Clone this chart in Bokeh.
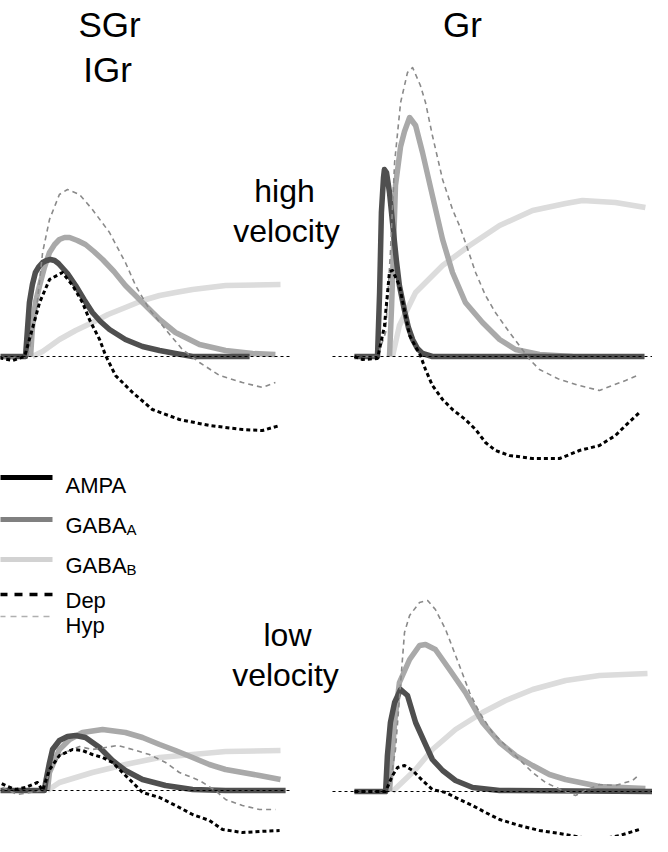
from bokeh.plotting import figure
from bokeh.models import Range1d, Label
from bokeh.embed import file_html
from bokeh.resources import INLINE

# ---------------- data (time in ms, amplitude in arbitrary units) ----------------
# Panel: SGr/IGr, high velocity
tl_ampa_t = [0.7, 11, 11.7, 12.3, 13.3, 14.3, 15.5, 16.7, 18, 19.3, 20.7, 22, 25, 27.7, 30.5, 33.3, 36, 39, 44.3, 50, 55.7, 61, 66.7, 85.7]
tl_ampa_a = [0, 0, 0.29, 0.54, 0.72, 0.84, 0.90, 0.94, 0.96, 0.97, 0.96, 0.93, 0.83, 0.71, 0.57, 0.44, 0.35, 0.27, 0.17, 0.10, 0.06, 0.03, 0, 0]
tl_gabaa_t = [12.7, 13.3, 14.3, 15.7, 17.3, 19, 20.7, 22.3, 24, 25.7, 28.3, 31, 33.8, 36.7, 40.5, 44.3, 50, 55.7, 61, 69, 77.7, 86.7, 94.3]
tl_gabaa_a = [0, 0.29, 0.54, 0.71, 0.89, 1.04, 1.12, 1.17, 1.19, 1.19, 1.16, 1.12, 1.05, 0.97, 0.85, 0.71, 0.54, 0.37, 0.24, 0.12, 0.06, 0.03, 0.02]
tl_gabab_t = [13.3, 16.7, 22.3, 27.7, 33.3, 38.5, 44.3, 50, 55.7, 61, 66.7, 77.7, 96]
tl_gabab_a = [0, 0.05, 0.17, 0.26, 0.34, 0.42, 0.49, 0.56, 0.61, 0.64, 0.67, 0.71, 0.72]
tl_hyp_t = [0, 5, 11.7, 14.3, 16.7, 19, 22.3, 25, 29, 33.3, 39, 44.3, 47.7, 52.3, 57.7, 63.3, 69, 75.7, 83.3, 90, 94.3]
tl_hyp_a = [0, -0.02, 0, 0.37, 1.04, 1.37, 1.62, 1.67, 1.62, 1.47, 1.24, 0.94, 0.71, 0.47, 0.27, 0.07, -0.06, -0.19, -0.26, -0.31, -0.26]
tl_dep_t = [0, 6.7, 10.7, 12.3, 15.7, 19, 23.3, 26.7, 30, 32.3, 35.7, 37.7, 41, 46.7, 53.3, 62.3, 72.3, 83.3, 90, 95.7]
tl_dep_a = [0, -0.04, 0, 0.17, 0.54, 0.77, 0.84, 0.71, 0.54, 0.37, 0.17, 0.01, -0.19, -0.36, -0.53, -0.63, -0.69, -0.73, -0.74, -0.69]
tl_base_t = [0, 100]

# Panel: Gr, high velocity
tr_ampa_t = [7.3, 15, 15.7, 16.3, 17, 17.3, 18, 19, 20, 21.3, 22.3, 24, 25.3, 26.7, 28.3, 30, 33.3, 104]
tr_ampa_a = [0, 0, 0.64, 1.44, 1.79, 1.87, 1.84, 1.64, 1.34, 0.96, 0.71, 0.46, 0.29, 0.17, 0.08, 0.03, 0, 0]
tr_gabaa_t = [19, 19.7, 21, 22.7, 24, 25.7, 27.7, 30, 33.3, 36.7, 40, 44.3, 50, 55.7, 61, 69, 80]
tr_gabaa_a = [0, 0.5, 1.71, 2.1, 2.25, 2.39, 2.31, 2.04, 1.61, 1.17, 0.84, 0.54, 0.34, 0.17, 0.07, 0.02, 0]
tr_gabab_t = [20, 22.3, 27.7, 36.7, 45.7, 55.7, 66.7, 77.7, 83.3, 94.3, 104.3]
tr_gabab_a = [0, 0.31, 0.64, 0.91, 1.11, 1.31, 1.46, 1.53, 1.56, 1.54, 1.49]
tr_hyp_t = [7.3, 15, 17.7, 19.3, 20.7, 22.7, 25, 26.7, 29.3, 31, 33.3, 36.7, 40, 42.3, 44.3, 47.7, 51, 54.3,
            59, 62.3, 65.7, 69, 75.7, 82.3, 89, 93.3, 97.7, 102.3]
tr_hyp_a = [0, 0, 0.24, 1.04, 1.94, 2.54, 2.84, 2.89, 2.71, 2.54, 2.21, 1.77, 1.47, 1.31, 1.14, 0.84, 0.61, 0.44,
            0.24, 0.11, -0.03, -0.13, -0.23, -0.29, -0.34, -0.29, -0.24, -0.18]
tr_dep_t = [7.3, 10, 15, 17.3, 19, 20, 22.3, 25.7, 29.3, 31, 33.3, 36.7, 40, 44.3, 47.7, 51, 54.3, 59, 66.7,
            75.7, 82.3, 89, 94.3, 97.7, 102.3]
tr_dep_a = [0, -0.03, -0.02, 0.3, 0.85, 0.86, 0.71, 0.21, 0.01, -0.13, -0.29, -0.43, -0.53, -0.63, -0.73, -0.86,
            -0.94, -0.99, -1.02, -1.02, -0.94, -0.89, -0.79, -0.69, -0.56]
tr_base_t = [0, 110]

# Panel: SGr/IGr, low velocity
bl_ampa_t = [0.7, 17.3, 17.7, 19, 20, 22.3, 25, 27.7, 31, 35.7, 40, 44.3, 50, 57.7, 66.7, 77.7, 97.7]
bl_ampa_a = [0, 0, 0.08, 0.28, 0.41, 0.5, 0.54, 0.55, 0.53, 0.43, 0.3, 0.2, 0.11, 0.05, 0.01, 0, 0]
bl_gabaa_t = [18.3, 19, 22.3, 25.7, 30, 36.7, 44.3, 50, 55.7, 61, 66.7, 72.3, 77.7, 89, 96]
bl_gabaa_a = [0, 0.18, 0.41, 0.51, 0.58, 0.61, 0.58, 0.53, 0.46, 0.4, 0.33, 0.26, 0.21, 0.15, 0.11]
bl_gabab_t = [18.3, 22.3, 33.3, 44.3, 55.7, 66.7, 77.7, 96]
bl_gabab_a = [0, 0.08, 0.18, 0.26, 0.33, 0.36, 0.39, 0.4]
bl_hyp_t = [3.3, 8.3, 16.7, 19, 22.3, 25.7, 29, 33.3, 37.7, 41.7, 46.7, 52.3, 57.7, 62.3, 69, 74.3, 77.7, 83.3, 89, 94.3]
bl_hyp_a = [0.03, -0.04, 0, 0.18, 0.35, 0.4, 0.44, 0.41, 0.43, 0.45, 0.41, 0.36, 0.28, 0.18, 0.1, 0, -0.09, -0.15, -0.19, -0.19]
bl_dep_t = [1, 4.3, 7.7, 11, 15, 16.7, 19, 22.3, 26.7, 30, 33.3, 36.7, 40, 43.3, 46.7, 50, 55.7, 61, 66.7, 72.3,
            76.7, 83.3, 89, 95.7]
bl_dep_a = [0.1, 0.05, 0.01, 0.03, 0.08, 0, 0.21, 0.35, 0.41, 0.4, 0.36, 0.33, 0.28, 0.18, 0.08, -0.02, -0.07,
            -0.15, -0.24, -0.3, -0.39, -0.42, -0.41, -0.4]
bl_base_t = [0, 100]

# Panel: Gr, low velocity
br_ampa_t = [7.3, 17.7, 18.3, 19.3, 20.7, 22.7, 25, 27.7, 30.7, 33.3, 36.7, 41, 46.7, 55.7, 108.3]
br_ampa_a = [0, 0, 0.36, 0.69, 0.89, 1.02, 0.96, 0.69, 0.49, 0.32, 0.21, 0.11, 0.04, 0.01, 0]
br_gabaa_t = [19, 20.7, 22.3, 25.7, 29, 31, 34.3, 39, 44.3, 50, 55.7, 61, 66.7, 72.3, 77.7, 89, 104.3]
br_gabaa_a = [0, 0.69, 1.09, 1.32, 1.46, 1.47, 1.42, 1.22, 0.99, 0.69, 0.49, 0.36, 0.26, 0.17, 0.12, 0.05, 0.03]
br_gabab_t = [20, 27.7, 33.3, 41, 50, 57.7, 66.7, 77.7, 89, 105]
br_gabab_a = [0, 0.22, 0.42, 0.62, 0.79, 0.91, 1.02, 1.11, 1.16, 1.18]
br_hyp_t = [7.3, 17.7, 19.3, 21, 24, 25.7, 29, 31.7, 34.3, 37.7, 42.3, 45.7, 49, 53.3, 57.7, 62.3, 66.7, 71,
            76.7, 81, 84.3, 89, 94.3, 100, 102.3]
br_hyp_a = [0, 0, 0.09, 0.42, 1.59, 1.76, 1.89, 1.91, 1.82, 1.62, 1.26, 0.99, 0.79, 0.59, 0.46, 0.32, 0.19, 0.09,
            0.01, -0.04, 0.01, 0.07, 0.06, 0.11, 0.17]
br_dep_t = [7.3, 17.7, 19, 20, 21.7, 24, 26.7, 30, 33.3, 37.7, 42.3, 46.7, 51, 55.7, 62.3, 69, 75.7, 83.3, 89, 95.7, 102.3]
br_dep_a = [0, 0, 0.09, 0.16, 0.24, 0.26, 0.21, 0.11, 0.02, -0.01, -0.08, -0.14, -0.21, -0.28, -0.34, -0.39,
            -0.42, -0.46, -0.48, -0.44, -0.38]
br_base_t = [0, 110]

column_titles = ["SGr\nIGr", "Gr"]
row_titles = ["high\nvelocity", "low\nvelocity"]
legend_labels = ["AMPA", "GABA", "GABA", "Dep", "Hyp"]
legend_subs = ["", "A", "B", "", ""]

# ---------------- layout / style ----------------
W, H = 652, 836
X0, Y0 = 8, 8                      # page offset of the figure
XS, YS = 3.0, 100.0                # px per ms, px per amplitude unit
PANELS = {"tl": (0, 364), "tr": (340, 364), "bl": (0, 798), "br": (340, 799)}  # (left px, baseline px)

FONT = "Liberation Sans"
C_AMPA, C_GABAA, C_GABAB = "#4f4f4f", "#a9a9a9", "#dcdcdc"
C_HYP, C_DEP = "#8a8a8a", "#000000"

p = figure(width=W, height=H, x_range=Range1d(X0, X0 + W), y_range=Range1d(Y0 + H, Y0),
           toolbar_location=None, output_backend="svg", min_border=0,
           x_axis_location=None, y_axis_location=None)
p.outline_line_color = None
p.xgrid.visible = False
p.ygrid.visible = False
p.background_fill_color = "white"
p.border_fill_color = "white"

for name, (L, B) in PANELS.items():
    p.extra_x_ranges[name] = Range1d((X0 - L) / XS, (X0 + W - L) / XS)
    p.extra_y_ranges[name] = Range1d((B - (Y0 + H)) / YS, (B - Y0) / YS)

data = {
    "tl": (tl_ampa_t, tl_ampa_a, tl_gabaa_t, tl_gabaa_a, tl_gabab_t, tl_gabab_a, tl_hyp_t, tl_hyp_a, tl_dep_t, tl_dep_a, tl_base_t),
    "tr": (tr_ampa_t, tr_ampa_a, tr_gabaa_t, tr_gabaa_a, tr_gabab_t, tr_gabab_a, tr_hyp_t, tr_hyp_a, tr_dep_t, tr_dep_a, tr_base_t),
    "bl": (bl_ampa_t, bl_ampa_a, bl_gabaa_t, bl_gabaa_a, bl_gabab_t, bl_gabab_a, bl_hyp_t, bl_hyp_a, bl_dep_t, bl_dep_a, bl_base_t),
    "br": (br_ampa_t, br_ampa_a, br_gabaa_t, br_gabaa_a, br_gabab_t, br_gabab_a, br_hyp_t, br_hyp_a, br_dep_t, br_dep_a, br_base_t),
}

for name, (at, aa, gat, gaa, gbt, gba, ht, ha, dt, da, bt) in data.items():
    kw = dict(x_range_name=name, y_range_name=name, line_join="round")
    p.line(gbt, gba, line_color=C_GABAB, line_width=5.5, **kw)
    p.line(gat, gaa, line_color=C_GABAA, line_width=5.5, **kw)
    p.line(at, aa, line_color=C_AMPA, line_width=5.5, **kw)
    p.line(ht, ha, line_color=C_HYP, line_width=1.6, line_dash="5 4", **kw)
    p.line(dt, da, line_color=C_DEP, line_width=3, line_dash="4 3", **kw)
    p.line(bt, [0] * len(bt), line_color="black", line_width=1, line_dash="3 3", **kw)

# column / row titles
def add_text(txt, x, y, size, align="center"):
    p.add_layout(Label(x=x, y=y, text=txt, text_font=FONT, text_font_size=size,
                       text_align=align, text_baseline="alphabetic", text_color="black"))

sg, ig = column_titles[0].split("\n")
add_text(sg, 117, 32, "35px")
add_text(ig, 115, 77, "35px")
add_text(column_titles[1], 470, 32, "35px")
h1, h2 = row_titles[0].split("\n")
add_text(h1, 292, 198, "32px")
add_text(h2, 294, 238, "32px")
l1, l2 = row_titles[1].split("\n")
add_text(l1, 295, 642, "32px")
add_text(l2, 293, 682, "32px")

# legend
leg_y = [485, 527, 567, 602, 624]
leg_style = [dict(line_color="black", line_width=5),
             dict(line_color="#808080", line_width=5),
             dict(line_color="#d2d2d2", line_width=5),
             dict(line_color="black", line_width=3.5, line_dash="8 7"),
             dict(line_color="#b0b0b0", line_width=1.6, line_dash="6 5")]
leg_base = [493, 533, 573, 608, 633]
for lab, sub, ly, st, lb in zip(legend_labels, legend_subs, leg_y, leg_style, leg_base):
    p.line([7, 60], [ly, ly], **st)
    add_text(lab, 73, lb, "22px", align="left")
    if sub:
        add_text(sub, 134, lb + 4, "15px", align="left")

open("out.html", "w").write(file_html(p, INLINE))
